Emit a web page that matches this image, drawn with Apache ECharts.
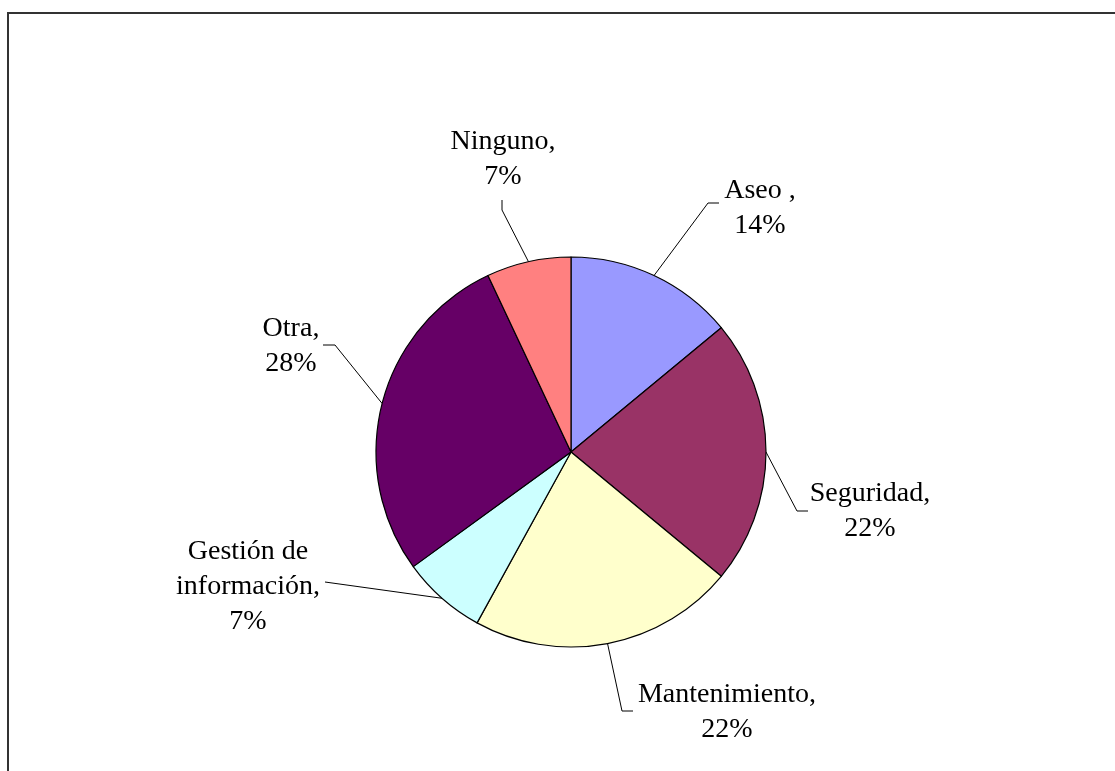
<!DOCTYPE html>
<html>
<head>
<meta charset="utf-8">
<script src="https://cdn.jsdelivr.net/npm/echarts@6/dist/echarts.min.js"></script>
<style>
html,body{margin:0;padding:0;background:#fff;}
#chart{width:1115px;height:771px;}
</style>
</head>
<body>
<div id="chart"></div>
<script>
// ---- data ----
const categories = ['Aseo ', 'Seguridad', 'Mantenimiento', 'Gestión de información', 'Otra', 'Ninguno'];
const values = [14, 22, 22, 7, 28, 7];
const colors = ['#9999FF', '#993366', '#FFFFCC', '#CCFFFF', '#660066', '#FF8080'];

// ---- label layout (positions of text blocks and leader elbows) ----
const labelPlacement = [
  { x: 760, y: 208, elbow: [708, 203], end: [719, 203] },
  { x: 870, y: 511, elbow: [797, 511], end: [808, 511] },
  { x: 727, y: 712, elbow: [622, 711], end: [633, 711] },
  { x: 248, y: 587, elbow: [325, 582], end: [325, 582] },
  { x: 291, y: 346, elbow: [335, 345], end: [323, 345] },
  { x: 503, y: 159, elbow: [502, 210], end: [502, 200] }
];

const chart = echarts.init(document.getElementById('chart'), null, { renderer: 'canvas' });

const pieData = categories.map((c, i) => ({
  name: c,
  value: values[i],
  itemStyle: { color: colors[i] }
}));

chart.setOption({
  backgroundColor: '#ffffff',
  animation: false,
  graphic: [{
    type: 'rect',
    shape: { x: 8, y: 13, width: 1300, height: 1000 },
    style: { fill: 'none', stroke: '#333333', lineWidth: 2 },
    silent: true
  }],
  series: [{
    type: 'pie',
    center: [571, 452],
    radius: 195,
    startAngle: 90,
    clockwise: true,
    percentPrecision: 0,
    data: pieData,
    itemStyle: { borderColor: '#000000', borderWidth: 1.2 },
    label: {
      show: true,
      position: 'outside',
      fontFamily: '"Liberation Serif", "Times New Roman", serif',
      fontSize: 28,
      lineHeight: 35,
      color: '#000000',
      align: 'center',
      formatter: function (p) {
        const name = p.name.replace(' de ', ' de\n');
        return name + ',\n' + Math.round(p.percent) + '%';
      }
    },
    labelLine: {
      show: true,
      length: 20,
      length2: 10,
      smooth: false,
      lineStyle: { color: '#000000', width: 1 }
    },
    labelLayout: function (params) {
      const pl = labelPlacement[params.dataIndex];
      const start = params.labelLinePoints ? params.labelLinePoints[0] : pl.elbow;
      return {
        x: pl.x,
        y: pl.y,
        align: 'center',
        verticalAlign: 'middle',
        labelLinePoints: [start, pl.elbow, pl.end]
      };
    },
    emphasis: { disabled: true }
  }]
});
</script>
</body>
</html>
